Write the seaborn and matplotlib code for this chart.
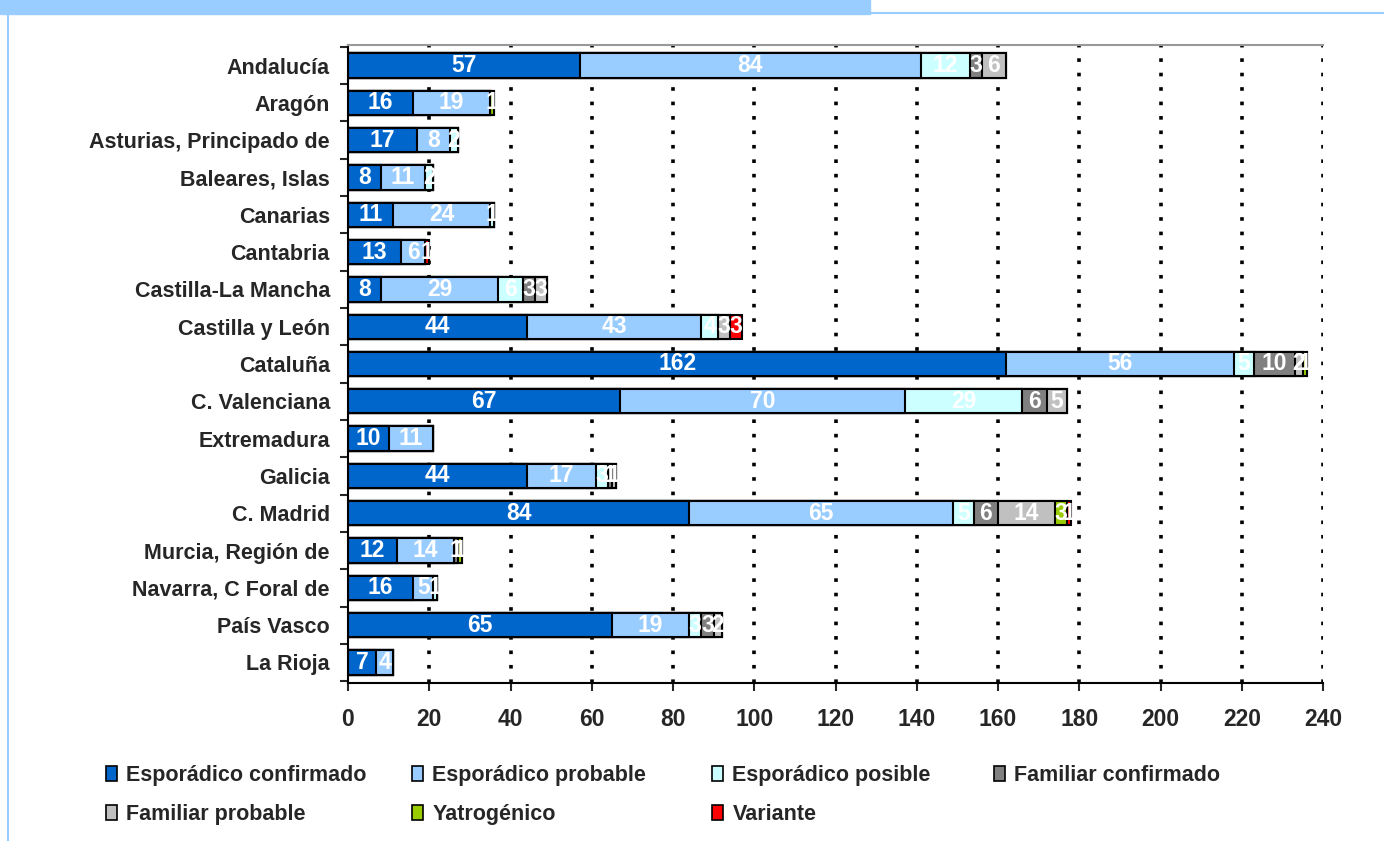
import numpy as np
import pandas as pd
import seaborn as sns
from matplotlib import pyplot as plt
from matplotlib.patches import Patch, Rectangle
from matplotlib.lines import Line2D
from matplotlib.ticker import MultipleLocator, FixedLocator

regions = ["Andalucía", "Aragón", "Asturias, Principado de", "Baleares, Islas",
           "Canarias", "Cantabria", "Castilla-La Mancha", "Castilla y León",
           "Cataluña", "C. Valenciana", "Extremadura", "Galicia", "C. Madrid",
           "Murcia, Región de", "Navarra, C Foral de", "País Vasco", "La Rioja"]

categories = ["Esporádico confirmado", "Esporádico probable", "Esporádico posible",
              "Familiar confirmado", "Familiar probable", "Yatrogénico", "Variante"]

esp_confirmado = [57, 16, 17, 8, 11, 13, 8, 44, 162, 67, 10, 44, 84, 12, 16, 65, 7]
esp_probable = [84, 19, 8, 11, 24, 6, 29, 43, 56, 70, 11, 17, 65, 14, 5, 19, 4]
esp_posible = [12, 0, 2, 2, 1, 0, 6, 4, 5, 29, 0, 3, 5, 0, 1, 3, 0]
fam_confirmado = [3, 0, 0, 0, 0, 0, 3, 0, 10, 6, 0, 1, 6, 1, 0, 3, 0]
fam_probable = [6, 0, 0, 0, 0, 0, 3, 3, 2, 5, 0, 1, 14, 0, 0, 2, 0]
yatrogenico = [0, 1, 0, 0, 0, 0, 0, 0, 1, 0, 0, 0, 3, 1, 0, 0, 0]
variante = [0, 0, 0, 0, 0, 1, 0, 3, 0, 0, 0, 0, 1, 0, 0, 0, 0]

colors = ["#0066CC", "#99CCFF", "#CCFFFF", "#808080", "#C0C0C0", "#99CC00", "#FF0000"]

series = [esp_confirmado, esp_probable, esp_posible, fam_confirmado,
          fam_probable, yatrogenico, variante]

sns.set_style("white")
plt.rcParams["font.family"] = ["Liberation Sans", "DejaVu Sans"]
plt.rcParams["font.weight"] = "bold"

data = np.array(series)
cum = np.cumsum(data, axis=0)

fig = plt.figure(figsize=(13.84, 8.41), dpi=100)
ax = fig.add_axes([348 / 1384, 1 - 683 / 841, 975 / 1384, 638 / 841])

# vertical dotted grid behind the bars
for xv in range(20, 241, 20):
    ax.axvline(xv, color="black", linestyle=(0, (1, 3)), linewidth=2.6, zorder=0)

# stacked bars: draw cumulative totals from the longest down
for i in range(len(series) - 1, -1, -1):
    df = pd.DataFrame({"region": regions, "value": cum[i]})
    sns.barplot(data=df, x="value", y="region", order=regions, orient="h",
                color=colors[i], saturation=1, width=0.65,
                edgecolor="black", linewidth=1.5, ax=ax, zorder=2)

# value labels
for i in range(len(series)):
    for j, v in enumerate(data[i]):
        if v > 0:
            ax.text(cum[i][j] - v / 2, j, str(v), ha="center", va="center",
                    color="white", fontsize=16.5, fontweight="bold", zorder=3)

ax.set_xlim(0, 240)
ax.set_ylim(16.55, -0.55)
ax.set_xlabel("")
ax.set_ylabel("")
ax.xaxis.set_major_locator(MultipleLocator(20))
ax.tick_params(axis="x", which="major", length=6, width=1.5, direction="out",
               labelsize=16.5, pad=12, bottom=True)
ax.tick_params(axis="y", which="major", length=0, labelsize=15.5, pad=13)
ax.yaxis.set_minor_locator(FixedLocator(np.arange(-0.5, 17, 1)))
ax.tick_params(axis="y", which="minor", length=6, width=1.5, direction="out", left=True)
for lab in ax.get_xticklabels() + ax.get_yticklabels():
    lab.set_fontweight("bold")

ax.spines["left"].set_color("black")
ax.spines["left"].set_linewidth(1.5)
ax.spines["bottom"].set_color("black")
ax.spines["bottom"].set_linewidth(1.5)
ax.spines["top"].set_color("#999999")
ax.spines["top"].set_linewidth(1.5)
ax.spines["right"].set_visible(False)

# legend, one block per column
handles = [Patch(facecolor=c, edgecolor="black", linewidth=1.2, label=l)
           for c, l in zip(colors, categories)]
col_x = [106, 412, 712, 994]
for k, x0 in enumerate(col_x):
    hs = handles[k::4]
    fig.legend(handles=hs, loc="upper left", bbox_to_anchor=(x0 / 1384, 1 - 765 / 841),
               frameon=False, fontsize=15.5, handlelength=0.5, handleheight=0.7,
               handletextpad=0.45, labelspacing=0.85, borderpad=0, borderaxespad=0)

# frame decoration of the original page
fig.patches.append(Rectangle((0, 1 - 14 / 841), 870 / 1384, 14 / 841,
                             transform=fig.transFigure, color="#99CCFF", zorder=0))
fig.lines.append(Line2D([870 / 1384, 1], [1 - 13 / 841, 1 - 13 / 841],
                        transform=fig.transFigure, color="#99CCFF", linewidth=1.5))
fig.lines.append(Line2D([8 / 1384, 8 / 1384], [0, 1 - 14 / 841],
                        transform=fig.transFigure, color="#99CCFF", linewidth=1.5))

fig.savefig("out.png", dpi=100)
